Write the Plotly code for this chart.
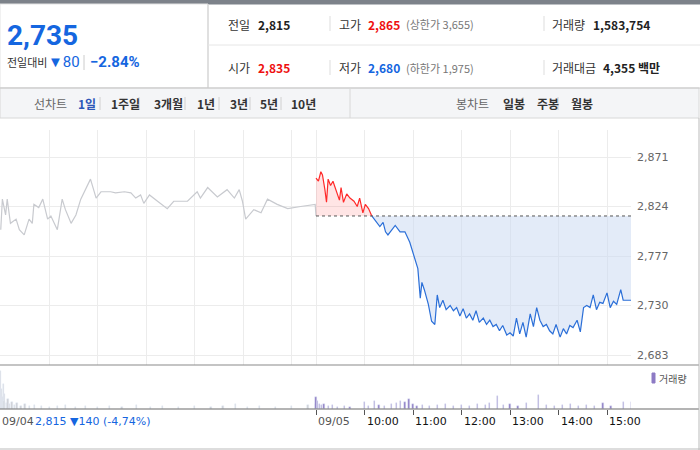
import plotly.graph_objects as go

# ---------- data ----------
prev_times = ["09:00","09:02","09:06","09:08","09:12","09:19","09:23","09:29","09:35","09:39","09:41","09:47","09:52","09:58",
              "10:02","10:10","10:16","10:20","10:27","10:33","10:39","10:45","10:51","10:58","11:04","11:16","11:22","11:33",
              "11:41","11:47","11:53","11:57","12:04","12:14","12:26","12:34","12:51","13:03","13:07","13:16","13:28","13:40",
              "13:49","13:55","13:59","14:03","14:13","14:22","14:30","14:42","14:55","15:11","15:29","15:30"]
prev_price = [2802,2831,2816,2831,2808,2812,2802,2797,2812,2808,2826,2823,2831,2812,
              2815,2802,2831,2821,2808,2816,2831,2840,2850,2832,2838,2838,2837,2838,
              2837,2832,2835,2827,2835,2829,2822,2829,2829,2838,2832,2842,2833,2840,
              2832,2840,2829,2812,2821,2818,2831,2826,2822,2824,2826,2815]

today_times = ["09:00","09:03","09:06","09:08","09:11","09:13","09:15","09:18","09:21","09:25","09:29","09:31","09:34","09:38",
               "09:42","09:47","09:51","09:54","09:58","10:01","10:05","10:09","10:14","10:19","10:23","10:26","10:29","10:34",
               "10:38","10:44","10:50","10:56","11:02","11:06","11:09","11:11","11:14","11:19","11:23","11:27","11:30","11:33",
               "11:37","11:41","11:46","11:50","11:54","11:58","12:02","12:06","12:10","12:14","12:18","12:22","12:27","12:31",
               "12:35","12:39","12:43","12:47","12:51","12:56","13:00","13:04","13:08","13:12","13:16","13:20","13:25","13:29",
               "13:33","13:37","13:41","13:45","13:49","13:53","13:57","14:02","14:06","14:10","14:14","14:18","14:23","14:27",
               "14:31","14:35","14:39","14:43","14:47","14:51","14:55","15:00","15:04","15:08","15:12","15:17","15:20","15:24","15:30"]
today_price = [2851,2848,2857,2854,2840,2828,2850,2844,2848,2838,2830,2842,2828,2836,
               2832,2829,2824,2832,2818,2826,2822,2815,2810,2805,2809,2800,2797,2802,
               2806,2800,2800,2790,2775,2765,2737,2752,2745,2731,2715,2712,2740,2728,
               2735,2726,2730,2725,2728,2720,2727,2718,2722,2716,2725,2714,2718,2712,
               2716,2710,2712,2706,2711,2702,2704,2701,2718,2703,2714,2700,2722,2710,
               2728,2716,2710,2712,2706,2703,2712,2700,2708,2703,2711,2709,2716,2705,
               2728,2730,2728,2740,2726,2733,2732,2742,2728,2734,2731,2745,2735,2735,2735]

prev_vol_times = ["09:00","09:01","09:02","09:03","09:04","09:05","09:07","09:09","09:11","09:14","09:17","09:20","09:25","09:30",
                  "09:36","09:42","09:50","10:00","10:10","10:20","10:32","10:45","11:00","11:15","11:30","11:48","12:05","12:20",
                  "12:40","13:00","13:20","13:35","13:50","14:05","14:20","14:40","15:00","15:20","15:29"]
prev_vol = [38,20,12,25,8,15,6,10,5,7,4,6,3,5,3,4,3,2,3,4,2,3,2,3,2,4,2,3,2,3,2,3,5,2,3,2,3,4,5]
today_vol_times = ["09:00","09:02","09:04","09:07","09:10","09:15","09:20","09:27","09:35","09:42","10:00","10:05","10:12","10:18",
                   "10:25","10:33","10:40","10:45","10:50","10:55","11:00","11:05","11:12","11:20","11:30","11:40","11:50","12:00",
                   "12:10","12:20","12:30","12:35","12:45","12:52","13:00","13:10","13:20","13:35","13:45","13:55","14:05","14:15",
                   "14:25","14:35","14:45","14:55","15:05","15:20","15:30"]
today_vol = [12,8,5,4,5,3,4,2,3,2,7,3,8,4,3,5,6,8,7,10,5,3,4,3,4,5,3,4,3,5,4,6,13,4,5,3,6,14,4,3,4,5,3,4,3,6,3,7,7]

prev_close = 2815
y_ticks = [2683, 2730, 2777, 2824, 2871]
y_tick_text = ["2,683", "2,730", "2,777", "2,824", "2,871"]
time_labels = ["10:00", "11:00", "12:00", "13:00", "14:00", "15:00"]

# ---------- helpers ----------
def hrs(t, offset=0.0):
    h, m = t.split(":")
    return int(h) + int(m) / 60 - offset

W, H = 700, 450
def px(x): return x / W
def py(y): return 1 - y / H

FONT = "Noto Sans CJK KR"
RED, BLUE, GRAY = "#ff2a2a", "#2b6fd8", "#c8cacf"

px_prev = [hrs(t, 6.5) for t in prev_times]
px_today = [hrs(t) for t in today_times]
split = today_times.index("10:09")

fig = go.Figure()
fig.add_trace(go.Scatter(x=px_prev, y=prev_price, mode="lines", line=dict(color=GRAY, width=1.2), hoverinfo="skip"))
rx = px_today[:split + 1]
fig.add_trace(go.Scatter(x=rx, y=[prev_close] * len(rx), mode="lines", line=dict(width=0), hoverinfo="skip"))
fig.add_trace(go.Scatter(x=rx, y=today_price[:split + 1], mode="lines", line=dict(color=RED, width=1.2),
                         fill="tonexty", fillcolor="rgba(255,80,80,0.15)", hoverinfo="skip"))
bx = px_today[split:]
fig.add_trace(go.Scatter(x=bx, y=[prev_close] * len(bx), mode="lines", line=dict(width=0), hoverinfo="skip"))
fig.add_trace(go.Scatter(x=bx, y=today_price[split:], mode="lines", line=dict(color=BLUE, width=1.2),
                         fill="tonexty", fillcolor="rgba(200,216,242,0.5)", hoverinfo="skip"))
fig.add_trace(go.Bar(x=[hrs(t, 6.5) for t in prev_vol_times], y=prev_vol, marker_color="#cfd1d5",
                     width=0.025, xaxis="x2", yaxis="y2", hoverinfo="skip"))
fig.add_trace(go.Bar(x=[hrs(t) for t in today_vol_times], y=today_vol, marker_color="#8d7bc4",
                     width=0.025, xaxis="x2", yaxis="y2", hoverinfo="skip"))

xr = [9 - 316 / 48.5, 9 + (631 - 316) / 48.5]
grid_x = [hrs(t, 6.5) for t in time_labels] + [9.0] + [hrs(t) for t in time_labels]
y_lo = 2683 - (365 - 355) * 188 / 198
y_hi = 2871 + (157 - 130) * 188 / 198

fig.update_layout(
    width=W, height=H, margin=dict(l=0, r=0, t=0, b=0), showlegend=False,
    paper_bgcolor="white", plot_bgcolor="white", bargap=0,
    font=dict(family=FONT, size=12, color="#333"),
    xaxis=dict(domain=[0, px(631)], range=xr, tickvals=grid_x, showticklabels=False,
               showgrid=True, gridcolor="#ececec", zeroline=False, ticks=""),
    yaxis=dict(domain=[py(365), py(130)], range=[y_lo, y_hi], side="right", tickvals=y_ticks,
               ticktext=y_tick_text, showgrid=True, gridcolor="#ececec", zeroline=False,
               tickfont=dict(size=11, color="#666", family="DejaVu Sans"), ticklabelstandoff=5),
    xaxis2=dict(domain=[0, px(631)], range=xr, anchor="y2", showgrid=False, zeroline=False,
                tickvals=[9.0] + [hrs(t) for t in time_labels], showticklabels=False,
                ticks="outside", ticklen=5, tickcolor="#555"),
    yaxis2=dict(domain=[py(409), py(368)], range=[0, 41], showgrid=False, zeroline=False,
                showticklabels=False),
)

shapes = []
def line(x0, y0, x1, y1, color="#ddd", width=1, dash=None):
    shapes.append(dict(type="line", xref="paper", yref="paper", x0=px(x0), y0=py(y0), x1=px(x1), y1=py(y1),
                       line=dict(color=color, width=width, dash=dash)))
def rect(x0, y0, x1, y1, fill, color=None):
    shapes.append(dict(type="rect", xref="paper", yref="paper", x0=px(x0), y0=py(y0), x1=px(x1), y1=py(y1),
                       fillcolor=fill, line=dict(color=color or fill, width=1), layer="below"))

rect(0, 0, 700, 4, "#7d828a")
rect(0, 4, 208, 88, "#ffffff", "#e3e3e3")
rect(0, 88, 699, 118, "#f4f5f7", "#d8d8d8")
line(208, 4, 208, 88, "#cfcfcf")
line(208, 45, 700, 45, "#e6e6e6")
line(0, 88, 700, 88, "#c9c9c9")
line(350, 88, 350, 118, "#d8d8d8")
line(330, 16, 330, 31, "#ddd"); line(330, 60, 330, 75, "#ddd")
line(544, 16, 544, 31, "#ddd"); line(544, 60, 544, 75, "#ddd")
line(0, 365, 699, 365, "#8a8a8a", 1.2)
line(0, 409, 699, 409, "#6a6a6a", 1.2)
line(699, 118, 699, 450, "#bbb")
line(0, 449, 700, 449, "#bbb")
line(84, 55, 84, 70, "#ccc")
for xs in [100, 139, 185, 219, 250, 281]:
    line(xs, 97, xs, 110, "#d0d0d0")
for xs in [523, 558]:
    line(xs, 97, xs, 110, "#d0d0d0")
shapes.append(dict(type="line", xref="x", yref="y", x0=9.0, x1=xr[1], y0=prev_close, y1=prev_close,
                   line=dict(color="#555", width=1, dash="dot")))
rect(652, 373, 655, 383, "#8d7bc4")
fig.update_layout(shapes=shapes)

ann = []
def txt(x, y, s, color="#333", size=12, bold=False, anchor="left", family=FONT):
    ann.append(dict(xref="paper", yref="paper", x=px(x), y=py(y), text=f"<b>{s}</b>" if bold else s,
                    showarrow=False, xanchor=anchor, yanchor="middle",
                    font=dict(color=color, size=size, family=family)))

txt(5, 36, "2,735", "#1566e0", 28, True, family="Roboto")
txt(5, 62, "전일대비", "#333", 11)
txt(46, 62, "▼80", "#1566e0", 15, family="Roboto")
txt(88, 62, "−2.84%", "#1566e0", 15, True, family="Roboto")
txt(226, 24, "전일", "#333", 12); txt(256, 24, "2,815", "#222", 12, True)
txt(337, 24, "고가", "#333", 12); txt(366, 24, "2,865", "#ee1111", 12, True)
txt(404, 24, "(상한가 3,655)", "#777", 11)
txt(550, 24, "거래량", "#333", 12); txt(591, 24, "1,583,754", "#222", 12, True)
txt(226, 68, "시가", "#333", 12); txt(256, 68, "2,835", "#ee1111", 12, True)
txt(337, 68, "저가", "#333", 12); txt(366, 68, "2,680", "#1566e0", 12, True)
txt(404, 68, "(하한가 1,975)", "#777", 11)
txt(550, 68, "거래대금", "#333", 12); txt(601, 68, "4,355 백만", "#222", 12, True)
txt(32, 103, "선차트", "#666", 12)
for x, s, c in [(76, "1일", "#2c56b8"), (109, "1주일", "#333"), (152, "3개월", "#333"), (195, "1년", "#333"),
                (228, "3년", "#333"), (258, "5년", "#333"), (289, "10년", "#333")]:
    txt(x, 103, s, c, 12, True)
txt(454, 103, "봉차트", "#666", 12)
for x, s in [(501, "일봉"), (535, "주봉"), (569, "월봉")]:
    txt(x, 103, s, "#333", 12, True)
txt(0, 421, "09/04", "#555", 11, family="DejaVu Sans")
txt(33, 421, "2,815 ▼140 (-4,74%)", "#1566e0", 11, family="DejaVu Sans")
txt(316, 421, "09/05", "#555", 11, family="DejaVu Sans")
for t in time_labels:
    ann.append(dict(xref="x2", yref="paper", x=hrs(t), y=py(421), text=t, showarrow=False, xanchor="left",
                    yanchor="middle", font=dict(color="#111", size=11, family="DejaVu Sans")))
txt(657, 378, "거래량", "#555", 10)
fig.update_layout(annotations=ann)

fig.write_html("out.html", config={"displayModeBar": False},
               post_script="document.body.style.margin='0';document.body.style.padding='0';")
